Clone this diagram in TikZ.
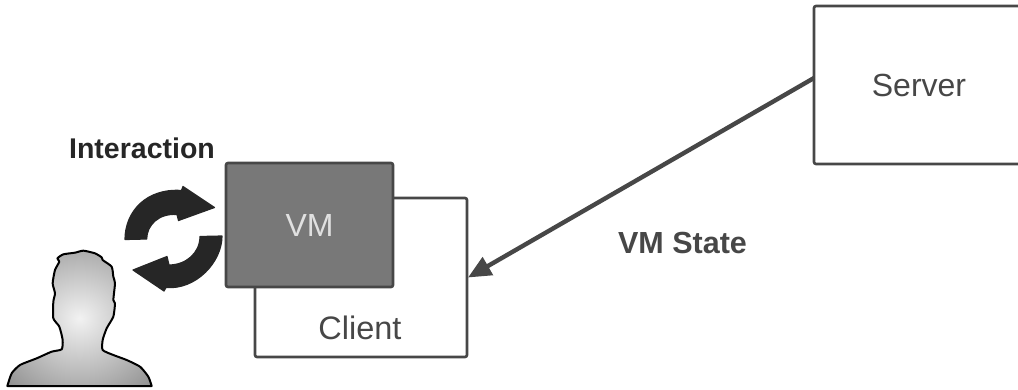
\documentclass[tikz,border=0pt]{standalone}
\usepackage{fontspec}
\setmainfont{Liberation Sans}
\usetikzlibrary{arrows.meta,calc}
\definecolor{linegray}{HTML}{474747}
\definecolor{vmfill}{HTML}{787878}
\definecolor{vmtext}{HTML}{E0E0E0}
\definecolor{iconblack}{HTML}{262626}
\definecolor{personin}{HTML}{F2F2F2}
\definecolor{personmid}{HTML}{ADADAD}
\definecolor{personout}{HTML}{666666}
\pgfdeclareradialshading{personshade}{\pgfpoint{0bp}{0bp}}{color(0bp)=(personin); color(25bp)=(personmid); color(50bp)=(personout); color(72bp)=(personout)}
\tikzset{
  box/.style={draw=linegray,line width=2.6pt,rounded corners=2pt,outer sep=0pt,inner sep=0pt,text=linegray,font=\fontsize{32}{34}\selectfont},
  caption/.style={inner sep=0pt,font=\fontsize{#1}{32}\selectfont\bfseries},
  plain/.style={inner sep=0pt,text=linegray,font=\fontsize{32.5}{34}\selectfont},
  cycleicon/.style={fill=iconblack,draw=iconblack,line width=1.2pt,line join=round}
}
\begin{document}
\begin{tikzpicture}[x=1pt,y=-1pt]
\useasboundingbox (0,0) rectangle (1018,389);
% boxes
\node[box,fill=white,minimum width=212pt,minimum height=159pt] (client) at (361,277.5) {};
\node[plain,anchor=center] (clientlabel) at (360,328) {Client};
\node[box,fill=vmfill,text=vmtext,minimum width=167pt,minimum height=124pt] (vm) at (309.5,225) {VM};
\node[box,minimum width=210pt,minimum height=158pt] (server) at (919,85) {Server};
% labels
\node[caption=28.5,text=iconblack] (interaction) at (142,148) {Interaction};
\node[caption=30.5,text=linegray] (vmstate) at (682.5,243) {VM State};
% connector
\draw[draw=linegray,line width=4.4pt,-{Triangle[length=23pt,width=20pt]}] ([yshift=7pt]server.west) -- ([xshift=1pt]client.east);
% cycle arrows
\path[cycleicon] (125,239.5) .. controls (125,212) and (146,188) .. (181.5,190.5)
  -- (183,186.5) -- (214.5,207.5) -- (178.5,220.5) -- (177,214.5)
  .. controls (159,213) and (146.7,225) .. (146.7,239) -- cycle;
\path[cycleicon] (222,236) .. controls (222,262) and (196,290) .. (166,287.5)
  -- (164,291) -- (133,270) -- (167,256.5) -- (169,265)
  .. controls (186,265) and (200,253) .. (200,236.5) -- cycle;
% person
\begin{scope}[x=0.33333pt,y=-0.33333pt,yshift=-120pt]
\path[draw=black,line width=2pt,line join=round,shading=personshade,shading angle=0]
  plot[smooth,tension=0.35] coordinates {(22,798) (35,760) (60,735) (110,715) (155,695) (185,688) (188,660) (178,620) (160,595) (160,545) (165,520) (158,490) (165,450) (178,425) (172,415) (190,403) (225,398) (250,392) (285,400) (305,412) (308,420) (335,440) (340,470) (345,490) (340,540) (345,550) (340,590) (320,625) (308,660) (308,690) (340,705) (380,720) (420,740) (445,770) (455,798)} -- cycle;
\end{scope}
\end{tikzpicture}
\end{document}
